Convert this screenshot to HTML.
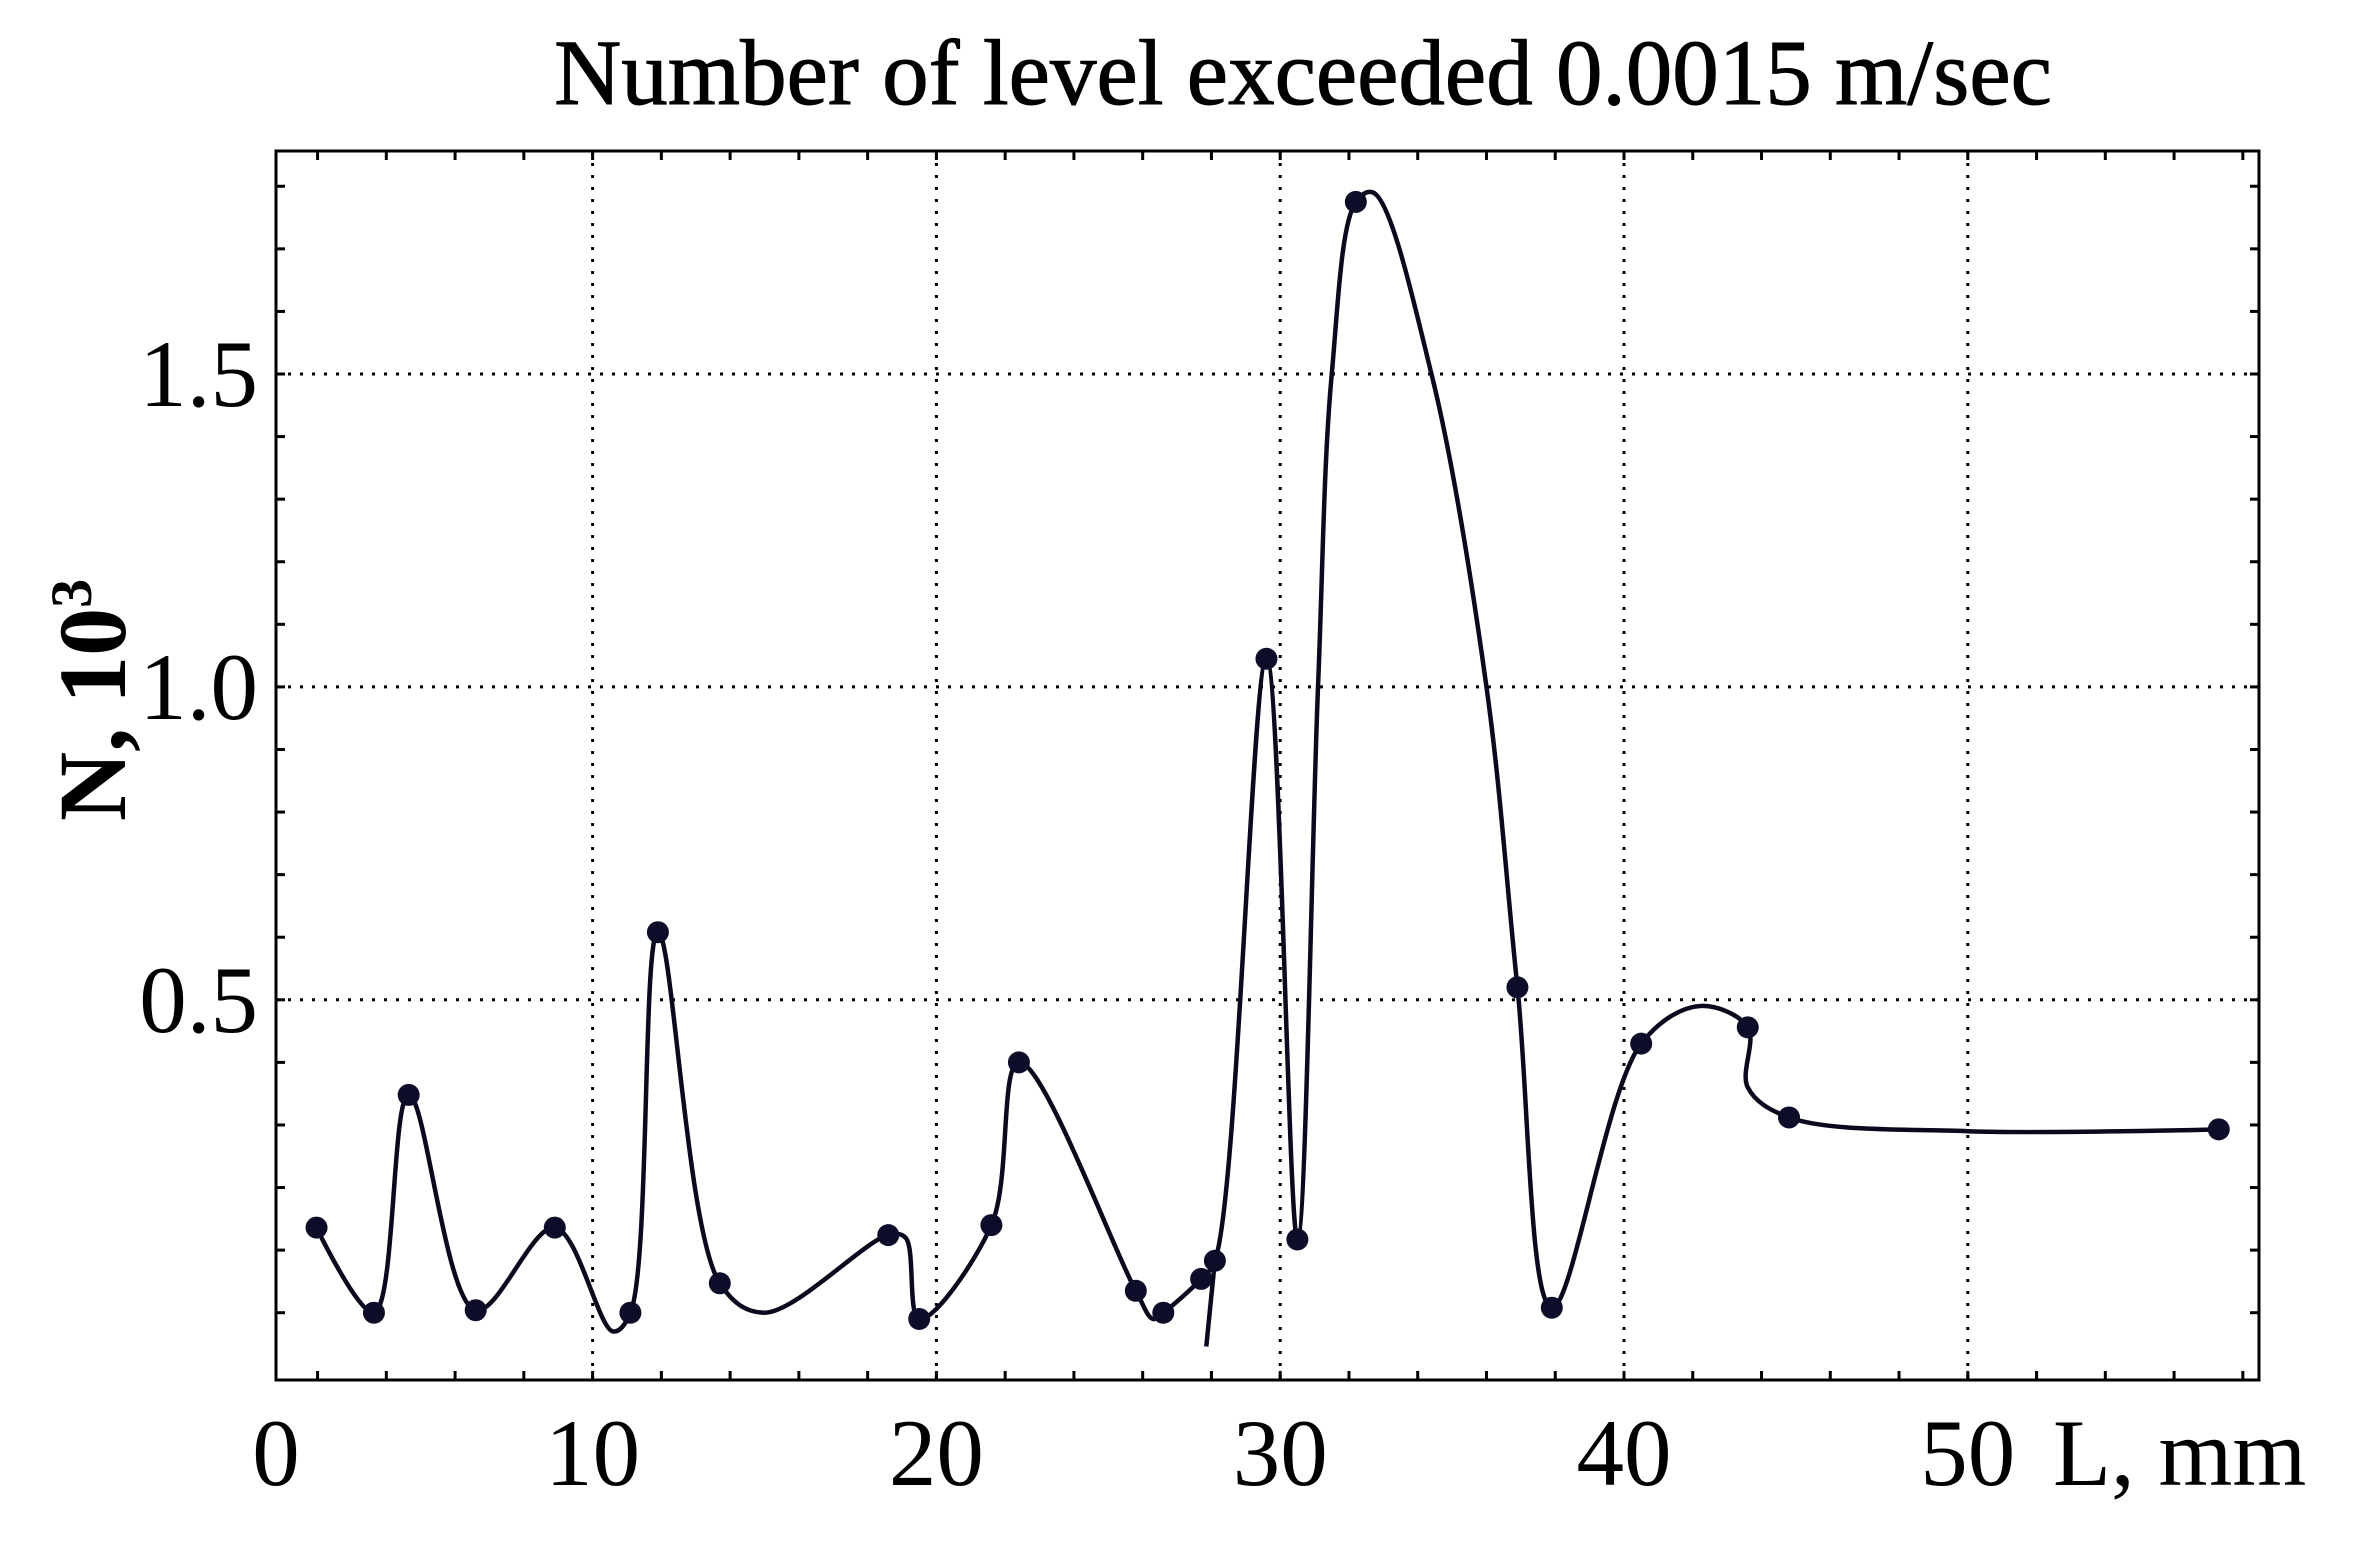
<!DOCTYPE html>
<html><head><meta charset="utf-8"><style>
html,body{margin:0;padding:0;background:#fff;}
svg{display:block;}
text{font-family:"Liberation Serif",serif;fill:#000;}
</style></head><body>
<svg id="chart" width="2361" height="1542" viewBox="0 0 2361 1542" xmlns="http://www.w3.org/2000/svg">
<rect x="0" y="0" width="2361" height="1542" fill="#fff"/>
<text x="1303" y="104" font-size="93" text-anchor="middle" stroke="#000" stroke-width="1">Number of level exceeded 0.0015 m/sec</text>
<g id="grid"></g>
<g id="ticks"></g>
<rect x="276" y="151" width="1983" height="1229" fill="none" stroke="#000" stroke-width="3"/>
<g id="labels"></g>
<g id="series"></g>
<text x="2053" y="1485" font-size="95">L, mm</text>
<text transform="translate(125,700) rotate(-90)" font-size="96" font-weight="bold" text-anchor="middle">N, 10<tspan dy="-34" font-size="58">3</tspan></text>
</svg>
<script>
const xTicks=[0,10,20,30,40,50];
const xTickLabels=["0","10","20","30","40","50"];
const yTicks=[0.5,1.0,1.5];
const yTickLabels=["0.5","1.0","1.5"];
const markerX=[1.97,3.64,4.65,6.6,8.9,11.1,11.9,13.7,18.6,19.5,21.6,22.4,25.8,26.6,27.7,28.1,29.6,30.5,32.2,36.9,37.9,40.5,43.6,44.8,57.3];
const markerY=[0.136,0.0,0.348,0.004,0.136,0.0,0.608,0.047,0.124,-0.01,0.14,0.40,0.035,0.0,0.054,0.083,1.045,0.117,1.775,0.52,0.008,0.43,0.456,0.312,0.293];
const curveX=[1.97,3.64,4.65,6.6,8.9,10.6,11.1,11.9,13.7,15.0,18.6,19.1,19.5,21.6,22.4,25.8,26.3,26.6,27.7,28.1,29.6,30.5,31.1,31.5,32.2,32.7,34.4,36.0,36.9,37.9,40.5,42.2,43.6,43.6,44.8,50,57.3];
const curveY=[0.136,0.0,0.348,0.004,0.136,-0.03,0.0,0.608,0.047,0.0,0.124,0.12,-0.01,0.14,0.40,0.035,-0.01,0.0,0.054,0.083,1.045,0.117,1.0,1.5,1.775,1.79,1.5,1.0,0.52,0.008,0.43,0.49,0.456,0.36,0.312,0.29,0.293];
const spikeX=[27.85,28.1];
const spikeY=[-0.054,0.083];

const X=v=>248.8+v*34.38;
const Y=v=>1312.7-v*625.8;
const NS="http://www.w3.org/2000/svg";
function mk(tag,attrs,parent){const e=document.createElementNS(NS,tag);for(const k in attrs)e.setAttribute(k,attrs[k]);parent.appendChild(e);return e;}
const grid=document.getElementById('grid'),ticks=document.getElementById('ticks'),labels=document.getElementById('labels'),series=document.getElementById('series');
xTicks.forEach((v,i)=>{
  if(v>0){const l=mk('line',{x1:X(v),x2:X(v),y1:151,y2:1380,stroke:'#000','stroke-width':3,'stroke-dasharray':'3 9'},grid);
  
  }
  const t=mk('text',{x:v===0?276:X(v),y:1485,'font-size':95,'text-anchor':'middle'},labels);
  t.textContent=xTickLabels[i];
  
  
});
yTicks.forEach((v,i)=>{
  const l=mk('line',{x1:276,x2:2259,y1:Y(v),y2:Y(v),stroke:'#000','stroke-width':3,'stroke-dasharray':'3 9'},grid);
  
  
  const t=mk('text',{x:258,y:Y(v)+32,'font-size':95,'text-anchor':'end'},labels);
  t.textContent=yTickLabels[i];
  
  
});
for(let v=2;v<=58;v+=2){[[151,160],[1371,1380]].forEach(p=>{const l=mk('line',{x1:X(v),x2:X(v),y1:p[0],y2:p[1],stroke:'#000','stroke-width':3},ticks);

});}
for(let v=0;v<=1.85;v+=0.1){[[276,285],[2250,2259]].forEach(p=>{const l=mk('line',{x1:p[0],x2:p[1],y1:Y(v),y2:Y(v),stroke:'#000','stroke-width':3},ticks);

});}
function dist(a,b){return Math.hypot(a[0]-b[0],a[1]-b[1]);}
function crPath(xs,ys){
  const P=xs.map((x,i)=>[X(x),Y(ys[i])]);
  let d='M'+P[0][0]+','+P[0][1];
  for(let i=0;i<P.length-1;i++){
    const p0=P[Math.max(0,i-1)],p1=P[i],p2=P[i+1],p3=P[Math.min(P.length-1,i+2)];
    const d1=Math.sqrt(dist(p0,p1)),d2=Math.sqrt(dist(p1,p2)),d3=Math.sqrt(dist(p2,p3));
    let c1=p1.slice(),c2=p2.slice();
    if(d1>1e-6&&d2>1e-6){
      for(let k=0;k<2;k++)c1[k]=(d1*d1*p2[k]-d2*d2*p0[k]+(2*d1*d1+3*d1*d2+d2*d2)*p1[k])/(3*d1*(d1+d2));
    }
    if(d3>1e-6&&d2>1e-6){
      for(let k=0;k<2;k++)c2[k]=(d3*d3*p1[k]-d2*d2*p3[k]+(2*d3*d3+3*d3*d2+d2*d2)*p2[k])/(3*d3*(d3+d2));
    }
    d+=' C'+c1[0]+','+c1[1]+' '+c2[0]+','+c2[1]+' '+p2[0]+','+p2[1];
  }
  return d;
}
const curve=mk('path',{d:crPath(curveX,curveY),fill:'none',stroke:'#0a0a1e','stroke-width':4.5},series);


const spike=mk('path',{d:'M'+X(spikeX[0])+','+Y(spikeY[0])+' L'+X(spikeX[1])+','+Y(spikeY[1]),fill:'none',stroke:'#0a0a1e','stroke-width':4.5},series);


markerX.forEach((x,i)=>{
  const c=mk('circle',{cx:X(x),cy:Y(markerY[i]),r:11,fill:'#0d0d2a'},series);
  
  
});
</script>
</body></html>
